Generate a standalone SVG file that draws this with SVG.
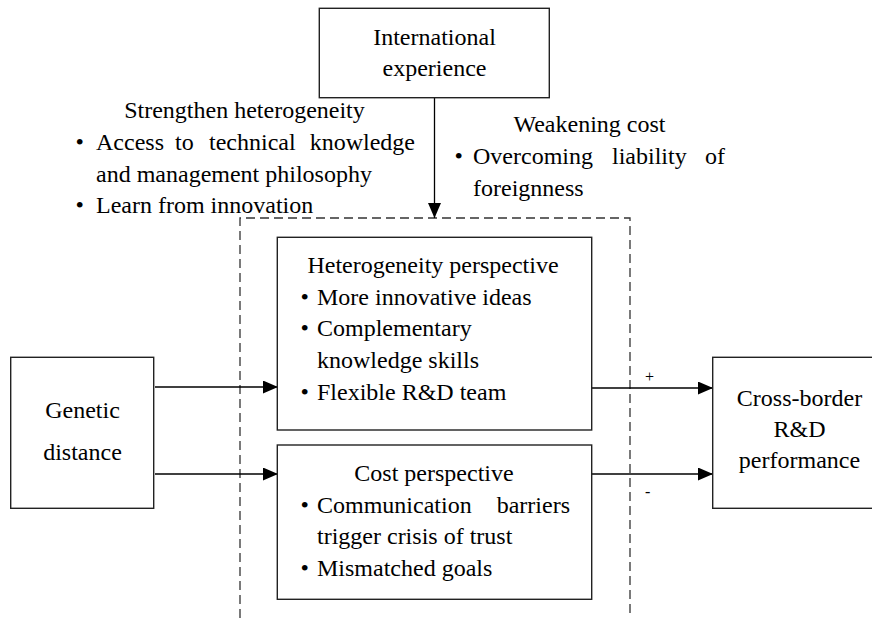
<svg xmlns="http://www.w3.org/2000/svg" width="872" height="618" viewBox="0 0 872 618">
<style>
  text { font-size: 24px; fill: #000; font-family: "Liberation Serif", "Times New Roman", serif; }
  .c { text-anchor: middle; }
  .e { text-anchor: end; }
  .sign { font-size: 16px; }
  .box { fill: #fff; stroke: #222; stroke-width: 1.4; }
  .conn { stroke: #000; stroke-width: 1.3; fill: none; }
  .dash { stroke: #333; stroke-width: 1.3; fill: none; stroke-dasharray: 9 5; }
</style>
<defs>
  <marker id="arrow" markerUnits="userSpaceOnUse" markerWidth="16" markerHeight="14" refX="15" refY="6.5" orient="auto">
    <path d="M0,0 L15,6.5 L0,13 z" fill="#000"/>
  </marker>
</defs>
<rect width="872" height="618" fill="#fff"/>

<g id="moderation-boundary">
  <path class="dash" d="M240,618 L240,218 L630,218 L630,618"/>
</g>

<g id="connectors">
  <line class="conn" x1="434.5" y1="98" x2="434.5" y2="218" marker-end="url(#arrow)"/>
  <line class="conn" x1="155" y1="387" x2="278" y2="387" marker-end="url(#arrow)"/>
  <line class="conn" x1="155" y1="474" x2="278" y2="474" marker-end="url(#arrow)"/>
  <line class="conn" x1="592" y1="388" x2="713" y2="388" marker-end="url(#arrow)"/>
  <line class="conn" x1="592" y1="474" x2="713" y2="474" marker-end="url(#arrow)"/>
  <text class="sign" x="645" y="382">+</text>
  <text class="sign" x="645" y="497">-</text>
</g>

<g id="international-experience">
  <rect class="box" x="319.3" y="8.3" width="230" height="89.4"/>
  <text class="c" x="434.5" y="45">International</text>
  <text class="c" x="434.5" y="76">experience</text>
</g>

<g id="strengthen-heterogeneity">
  <text class="c" x="244.5" y="118">Strengthen heterogeneity</text>
  <text x="75.5" y="150">•</text>
  <text x="96" y="150">Access</text>
  <text x="175" y="150">to</text>
  <text x="209" y="150">technical</text>
  <text class="e" x="415" y="150">knowledge</text>
  <text x="96" y="182">and management philosophy</text>
  <text x="75.5" y="213">•</text>
  <text x="96" y="213">Learn from innovation</text>
</g>

<g id="weakening-cost">
  <text class="c" x="589.5" y="132">Weakening cost</text>
  <text x="454.4" y="164">•</text>
  <text x="473" y="164">Overcoming</text>
  <text x="612" y="164">liability</text>
  <text class="e" x="725" y="164">of</text>
  <text x="473" y="196">foreignness</text>
</g>

<g id="heterogeneity-perspective">
  <rect class="box" x="277.3" y="237.3" width="314.4" height="192.7"/>
  <text class="c" x="433" y="273">Heterogeneity perspective</text>
  <text x="300.5" y="305">•</text>
  <text x="317" y="305">More innovative ideas</text>
  <text x="300.5" y="336">•</text>
  <text x="317" y="336">Complementary</text>
  <text x="317" y="368">knowledge skills</text>
  <text x="300.5" y="400">•</text>
  <text x="317" y="400">Flexible R&amp;D team</text>
</g>

<g id="cost-perspective">
  <rect class="box" x="277.3" y="445" width="314.4" height="154.3"/>
  <text class="c" x="434" y="481">Cost perspective</text>
  <text x="300.5" y="513">•</text>
  <text x="317" y="513">Communication</text>
  <text class="e" x="570" y="513">barriers</text>
  <text x="317" y="544">trigger crisis of trust</text>
  <text x="300.5" y="576">•</text>
  <text x="317" y="576">Mismatched goals</text>
</g>

<g id="genetic-distance">
  <rect class="box" x="10.7" y="357.3" width="143" height="151"/>
  <text class="c" x="82.5" y="418">Genetic</text>
  <text class="c" x="82.5" y="460">distance</text>
</g>

<g id="cross-border-performance">
  <rect class="box" x="712.7" y="357.3" width="170" height="151"/>
  <text class="c" x="799.5" y="406">Cross-border</text>
  <text class="c" x="799.5" y="437">R&amp;D</text>
  <text class="c" x="799.5" y="468">performance</text>
</g>
</svg>
